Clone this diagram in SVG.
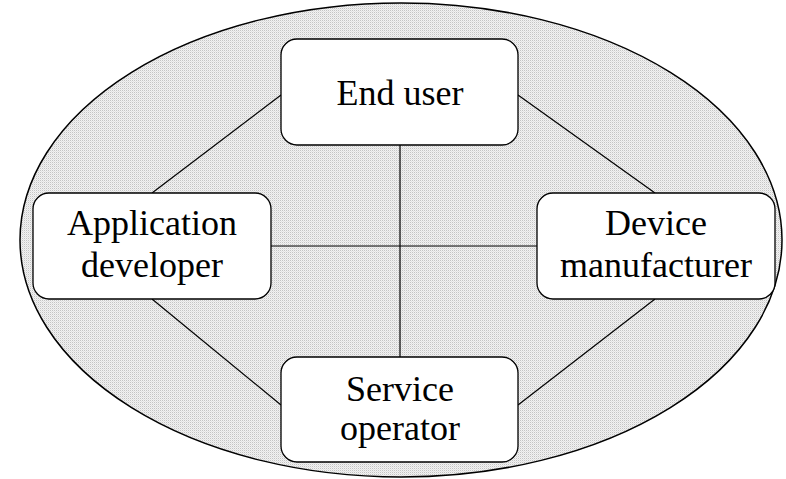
<svg xmlns="http://www.w3.org/2000/svg" width="786" height="479" viewBox="0 0 786 479">
<style>
.node rect{fill:#fff;stroke:#000;stroke-width:1.3}
.node text{font-family:'Liberation Serif','Times New Roman','DejaVu Serif',serif;font-size:36px;text-anchor:middle;fill:#000}
#connectors line{stroke:#000;stroke-width:1.2}
</style>
<defs>
<pattern id="dots" width="2" height="2" patternUnits="userSpaceOnUse">
<rect width="2" height="2" fill="#f2f2f2"/>
<rect width="1" height="1" fill="#c4c4c4"/>
<rect x="1" y="1" width="1" height="1" fill="#e2e2e2"/>
</pattern>
</defs>
<rect width="786" height="479" fill="#fff"/>
<ellipse id="boundary" cx="401" cy="240" rx="381" ry="237" fill="url(#dots)" stroke="#000" stroke-width="1.5"/>
<g id="connectors">
<line x1="400" y1="145" x2="400" y2="357"/>
<line x1="271" y1="246" x2="537" y2="246"/>
<line x1="281" y1="95" x2="152" y2="193"/>
<line x1="518" y1="95" x2="655" y2="193"/>
<line x1="152" y1="299" x2="281" y2="405"/>
<line x1="518" y1="405" x2="655" y2="299"/>
</g>
<g id="end-user" class="node">
<rect x="281" y="39" width="237" height="106" rx="16"/>
<text x="400" y="105" font-family="Liberation Serif, serif">End user</text>
</g>
<g id="application-developer" class="node">
<rect x="33" y="193" width="238" height="106" rx="16"/>
<text x="152" y="235" font-family="Liberation Serif, serif">Application</text>
<text x="152" y="277" font-family="Liberation Serif, serif">developer</text>
</g>
<g id="device-manufacturer" class="node">
<rect x="537" y="193" width="238" height="106" rx="16"/>
<text x="656" y="235" font-family="Liberation Serif, serif">Device</text>
<text x="656" y="277" font-family="Liberation Serif, serif">manufacturer</text>
</g>
<g id="service-operator" class="node">
<rect x="281" y="357" width="237" height="105" rx="16"/>
<text x="400" y="401" font-family="Liberation Serif, serif">Service</text>
<text x="400" y="440" font-family="Liberation Serif, serif">operator</text>
</g>
</svg>
